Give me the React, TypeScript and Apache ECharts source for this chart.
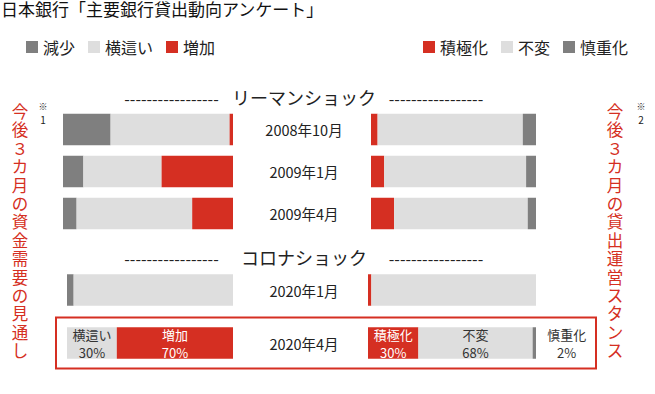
import React, { useEffect, useRef } from "react";
import * as echarts from "echarts";

const TITLE = "日本銀行「主要銀行貸出動向アンケート」";
const upperDates = ["2008年10月", "2009年1月", "2009年4月"];
const lowerDates = ["2020年1月", "2020年4月"];

// 資金需要の見通し (%)
const demandNames = ["減少", "横這い", "増加"];
const demandDecreaseUpper = [28, 12, 8];
const demandFlatUpper = [70, 46, 68];
const demandIncreaseUpper = [2, 42, 24];
const demandDecreaseLower = [4, 0];
const demandFlatLower = [96, 30];
const demandIncreaseLower = [0, 70];

// 貸出運営スタンス (%)
const stanceNames = ["積極化", "不変", "慎重化"];
const stanceEaseUpper = [4, 8, 14];
const stanceFlatUpper = [88, 86, 81];
const stanceTightUpper = [8, 6, 5];
const stanceEaseLower = [2, 30];
const stanceFlatLower = [98, 68];
const stanceTightLower = [0, 2];

const sectionTitles = ["リーマンショック", "コロナショック"];
const leftSideText = "今後３カ月の資金需要の見通し";
const rightSideText = "今後３カ月の貸出運営スタンス";
const dashes = "-----------------";

const RED = "#d52f22";
const LIGHT = "#dedede";
const DARK = "#7f7f7f";
const FONT = "'Noto Sans CJK JP', 'Noto Sans', sans-serif";

export default function App() {
  const ref = useRef<HTMLDivElement>(null);
  useEffect(() => {
    if (!ref.current) return;
    const chart = echarts.init(ref.current, undefined, { renderer: "svg" });

    const lbl = (color: string, pos?: any) => ({
      show: true,
      formatter: "{a}\n{c}%",
      color,
      fontSize: 13,
      lineHeight: 18,
      fontFamily: FONT,
      ...(pos ? { position: pos, align: "center", verticalAlign: "middle" } : { position: "inside" }),
    });

    const withLabel = (vals: number[], idx: number, label: any) =>
      vals.map((v, i) => (i === idx ? { value: v, label } : v));

    const mk = (name: string, color: string, data: any[], xi: number, stack: string) => ({
      type: "bar",
      name,
      stack,
      xAxisIndex: xi,
      yAxisIndex: xi,
      barWidth: 31.5,
      itemStyle: { color },
      data,
    });

    const grids = [
      { left: 63, width: 170, top: 108.5, height: 126 },
      { left: 67, width: 166, top: 263.5, height: 106 },
      { left: 371, width: 165, top: 108.5, height: 126 },
      { left: 368, width: 168, top: 263.5, height: 106 },
    ];

    const xAxes = grids.map((_, i) => ({
      type: "value",
      gridIndex: i,
      min: 0,
      max: 100,
      show: false,
    }));
    const yAxes = grids.map((_, i) => ({
      type: "category",
      gridIndex: i,
      inverse: true,
      data: i % 2 === 0 ? upperDates : lowerDates,
      axisLine: { show: false },
      axisTick: { show: false },
      axisLabel: {
        show: i >= 2,
        align: "center",
        margin: i === 2 ? 67 : 64,
        fontSize: 14.5,
        color: "#222",
        fontFamily: FONT,
      },
    }));

    const vChars = (s: string, x: number) =>
      s.split("").map((ch, i) => ({
        type: "text",
        x,
        y: 111 + i * 18.4,
        style: {
          text: ch,
          font: `16.5px ${FONT}`,
          fill: RED,
          align: "center",
          verticalAlign: "middle",
        },
      }));

    const option: any = {
      animation: false,
      textStyle: { fontFamily: FONT },
      title: {
        text: TITLE,
        left: 1,
        top: 0,
        padding: 0,
        textStyle: { fontSize: 17, fontWeight: "normal", color: "#111", fontFamily: FONT },
      },
      legend: [
        {
          data: demandNames,
          left: 21,
          top: 34,
          icon: "rect",
          itemWidth: 12,
          itemHeight: 12,
          itemGap: 13,
          selectedMode: false,
          textStyle: { fontSize: 16, color: "#222", fontFamily: FONT },
        },
        {
          data: stanceNames,
          right: 22,
          top: 34,
          icon: "rect",
          itemWidth: 12,
          itemHeight: 12,
          itemGap: 13,
          selectedMode: false,
          textStyle: { fontSize: 16, color: "#222", fontFamily: FONT },
        },
      ],
      grid: grids.map((g) => ({ ...g, containLabel: false })),
      xAxis: xAxes,
      yAxis: yAxes,
      series: [
        mk(demandNames[0], DARK, demandDecreaseUpper, 0, "ul"),
        mk(demandNames[1], LIGHT, demandFlatUpper, 0, "ul"),
        mk(demandNames[2], RED, demandIncreaseUpper, 0, "ul"),
        mk(demandNames[0], DARK, demandDecreaseLower, 1, "ll"),
        mk(demandNames[1], LIGHT, withLabel(demandFlatLower, 1, lbl("#333")), 1, "ll"),
        mk(demandNames[2], RED, withLabel(demandIncreaseLower, 1, lbl("#fff")), 1, "ll"),
        mk(stanceNames[0], RED, stanceEaseUpper, 2, "ur"),
        mk(stanceNames[1], LIGHT, stanceFlatUpper, 2, "ur"),
        mk(stanceNames[2], DARK, stanceTightUpper, 2, "ur"),
        mk(stanceNames[0], RED, withLabel(stanceEaseLower, 1, lbl("#fff")), 3, "lr"),
        mk(stanceNames[1], LIGHT, withLabel(stanceFlatLower, 1, lbl("#333")), 3, "lr"),
        mk(stanceNames[2], DARK, withLabel(stanceTightLower, 1, lbl("#333", [34, "50%"])), 3, "lr"),
      ],
      graphic: [
        ...[97, 257].flatMap((y, i) => [
          {
            type: "text",
            x: 304,
            y,
            style: {
              text: sectionTitles[i],
              font: `18px ${FONT}`,
              fill: "#222",
              align: "center",
              verticalAlign: "middle",
            },
          },
          {
            type: "text",
            x: 171.5,
            y: y + 1,
            style: {
              text: dashes,
              font: `16px ${FONT}`,
              fill: "#222",
              align: "center",
              verticalAlign: "middle",
            },
          },
          {
            type: "text",
            x: 436,
            y: y + 1,
            style: {
              text: dashes,
              font: `16px ${FONT}`,
              fill: "#222",
              align: "center",
              verticalAlign: "middle",
            },
          },
        ]),
        ...vChars(leftSideText, 20),
        ...vChars(rightSideText, 615),
        {
          type: "text",
          x: 43,
          y: 102,
          style: { text: "※", font: `9px ${FONT}`, fill: "#222", align: "center" },
        },
        {
          type: "text",
          x: 43,
          y: 114,
          style: { text: "1", font: `10px ${FONT}`, fill: "#222", align: "center" },
        },
        {
          type: "text",
          x: 641,
          y: 102,
          style: { text: "※", font: `9px ${FONT}`, fill: "#222", align: "center" },
        },
        {
          type: "text",
          x: 641,
          y: 114,
          style: { text: "2", font: `10px ${FONT}`, fill: "#222", align: "center" },
        },
        {
          type: "rect",
          shape: { x: 56, y: 317.5, width: 540, height: 51 },
          style: { fill: "none", stroke: RED, lineWidth: 2 },
          z: 10,
        },
      ],
    };

    chart.setOption(option);
    return () => chart.dispose();
  }, []);

  return (
    <div
      ref={ref}
      style={{ position: "fixed", left: 0, top: 0, width: 655, height: 394, background: "#fff" }}
    />
  );
}
